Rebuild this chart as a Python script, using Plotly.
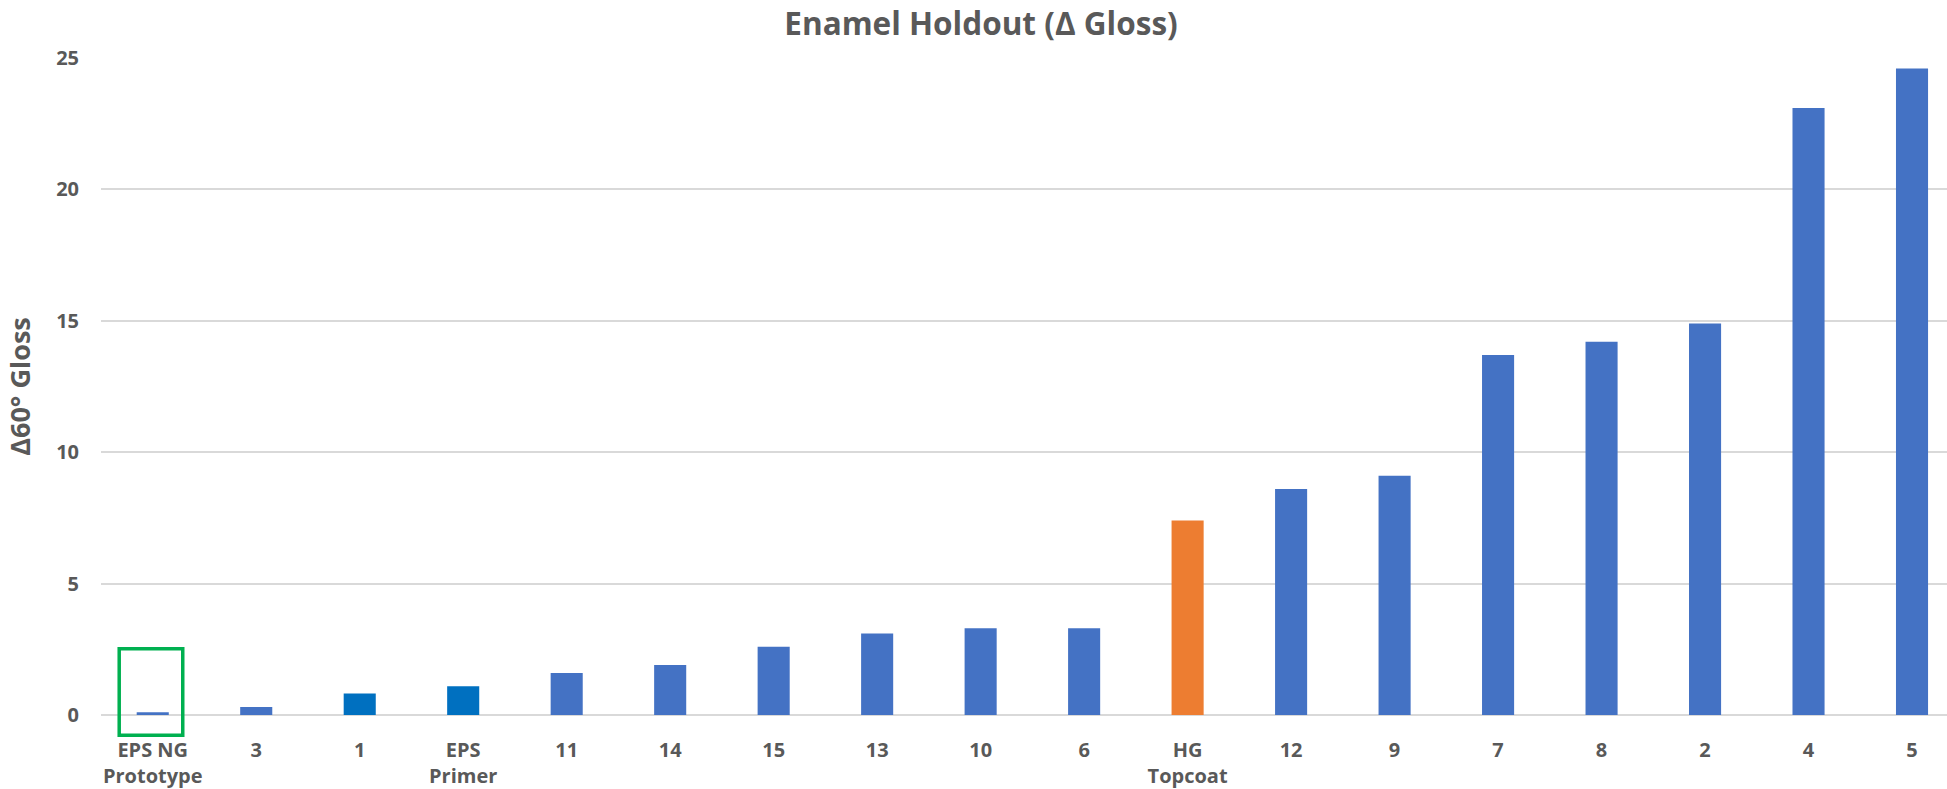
import plotly.graph_objects as go

categories = ["EPS NG<br>Prototype", "3", "1", "EPS<br>Primer", "11", "14", "15", "13", "10", "6",
              "HG<br>Topcoat", "12", "9", "7", "8", "2", "4", "5"]
values = [0.1, 0.3, 0.82, 1.09, 1.6, 1.9, 2.6, 3.1, 3.3, 3.3, 7.4, 8.6, 9.1, 13.7, 14.2, 14.9, 23.1, 24.6]
kinds = ["sample", "sample", "dark", "dark", "sample", "sample", "sample", "sample", "sample", "sample",
         "ref", "sample", "sample", "sample", "sample", "sample", "sample", "sample"]
color_map = {"sample": "#4472C4", "dark": "#0070C0", "ref": "#ED7D31"}
y_ticks = [0, 5, 10, 15, 20, 25]
y_max = 25
highlight_index = 0
box_y = [-0.77, 2.52]

FONT = "Open Sans, Lato, sans-serif"
GRAY = "#595959"

x_idx = list(range(len(categories)))

fig = go.Figure()
fig.add_trace(go.Bar(
    x=x_idx, y=values,
    marker=dict(color=[color_map[k] for k in kinds], line=dict(width=0)),
    width=0.31,
    hoverinfo="y",
))

fig.add_shape(
    type="rect", xref="x", yref="y domain",
    x0=highlight_index - 0.324, x1=highlight_index + 0.29,
    y0=box_y[0] / y_max, y1=box_y[1] / y_max,
    line=dict(color="#00B050", width=3.5), fillcolor="rgba(0,0,0,0)",
)

fig.update_layout(
    width=1947, height=789,
    margin=dict(l=101, r=0, t=58, b=74),
    paper_bgcolor="white", plot_bgcolor="white",
    showlegend=False,
    title=dict(text="<b>Enamel Holdout (Δ Gloss)</b>", x=981 / 1947, xanchor="center",
               y=1 - 24 / 789, yanchor="middle",
               font=dict(family=FONT, size=31.5, color=GRAY)),
    font=dict(family=FONT, color=GRAY),
)

fig.update_xaxes(
    tickmode="array", tickvals=x_idx,
    ticktext=["<b>" + c.replace("<br>", "</b><br><b>") + "</b>" for c in categories],
    range=[-0.5, 17.338],
    showgrid=False, zeroline=False, showline=False, ticks="",
    tickfont=dict(family=FONT, size=20, color=GRAY),
    ticklabelstandoff=21, automargin=False,
)
fig.update_yaxes(
    range=[0, y_max], tickvals=y_ticks, ticktext=[f"<b>{t}</b>" for t in y_ticks],
    showgrid=True, gridcolor="#D9D9D9", gridwidth=1.5,
    zeroline=True, zerolinecolor="#D9D9D9", zerolinewidth=1.5,
    showline=False, ticks="",
    tickfont=dict(family=FONT, size=20, color=GRAY),
    ticklabelstandoff=21, automargin=False,
    title=dict(text="<b>Δ60° Gloss</b>", font=dict(family=FONT, size=27, color=GRAY), standoff=17),
)

fig.write_html("out.html",
               config={"displayModeBar": False},
               post_script="document.body.style.margin='0';document.body.style.padding='0';")
